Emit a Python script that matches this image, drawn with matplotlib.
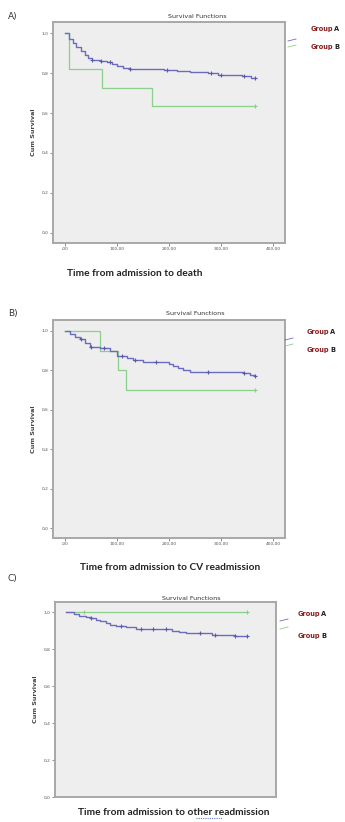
import matplotlib
matplotlib.use("Agg")
import matplotlib.pyplot as plt
from matplotlib.lines import Line2D

# Kaplan-Meier step data (days, cumulative survival)
a_blue_t = [0, 8, 15, 22, 30, 38, 45, 52, 67, 80, 90, 100, 112, 125, 190, 215, 240, 275, 295, 340, 358, 365]
a_blue_s = [1.0, 0.97, 0.95, 0.93, 0.91, 0.89, 0.875, 0.865, 0.86, 0.855, 0.845, 0.835, 0.825, 0.82,
            0.815, 0.81, 0.805, 0.80, 0.79, 0.785, 0.775, 0.775]
a_blue_cens = [52, 70, 87, 125, 196, 280, 300, 345, 365]
a_green_t = [0, 8, 71, 168, 365]
a_green_s = [1.0, 0.818, 0.727, 0.636, 0.636]
a_green_cens = [365]

b_blue_t = [0, 10, 20, 29, 38, 48, 67, 87, 100, 119, 131, 150, 188, 200, 208, 218, 227, 240, 342, 355, 365]
b_blue_s = [1.0, 0.985, 0.97, 0.96, 0.94, 0.92, 0.915, 0.90, 0.87, 0.86, 0.85, 0.84, 0.84, 0.83,
            0.82, 0.81, 0.80, 0.79, 0.785, 0.775, 0.77]
b_blue_cens = [30, 50, 75, 110, 135, 175, 275, 345, 365]
b_green_t = [0, 67, 101, 118, 365]
b_green_s = [1.0, 0.9, 0.8, 0.7, 0.7]
b_green_cens = [365]

c_blue_t = [0, 15, 26, 40, 50, 60, 67, 80, 87, 100, 121, 141, 205, 214, 228, 242, 294, 340, 365]
c_blue_s = [1.0, 0.99, 0.98, 0.975, 0.97, 0.96, 0.95, 0.94, 0.93, 0.925, 0.92, 0.91, 0.91, 0.90,
            0.89, 0.885, 0.875, 0.87, 0.87]
c_blue_cens = [50, 110, 150, 175, 200, 270, 300, 340, 365]
c_green_t = [0, 365]
c_green_s = [1.0, 1.0]
c_green_cens = [35, 365]

y_ticks = [0.0, 0.2, 0.4, 0.6, 0.8, 1.0]
y_labels = ["0,0", "0,2", "0,4", "0,6", "0,8", "1,0"]
x_ticks = [0, 100, 200, 300, 400]
x_labels = [",00", "100,00", "200,00", "300,00", "400,00"]

BLUE = "#6b6bbf"
GREEN = "#8ccf8c"
FRAME = "#a8a8a8"
PANEL = "#eeeeee"

W, H = 345, 822
fig = plt.figure(figsize=(W / 100, H / 100), dpi=100)
fig.patch.set_facecolor("white")


def fx(px):
    return px / W


def fy(py):
    return 1 - py / H


def step_value(ts, ss, t):
    val = ss[0]
    for ti, si in zip(ts, ss):
        if ti <= t:
            val = si
    return val


def km_panel(box, bt, bs, bc, gt, gs, gc, ymin, show_x=True):
    left, top, right, bottom = box
    ax = fig.add_axes([fx(left), fy(bottom), fx(right - left), (bottom - top) / H])
    ax.set_facecolor(PANEL)
    for sp in ax.spines.values():
        sp.set_color(FRAME)
        sp.set_linewidth(1.4)
    ax.step(gt, gs, where="post", color=GREEN, lw=0.9)
    ax.step(bt, bs, where="post", color=BLUE, lw=1.0)
    ax.plot(gc, [step_value(gt, gs, t) for t in gc], "+", color=GREEN, ms=3, mew=0.8)
    ax.plot(bc, [step_value(bt, bs, t) for t in bc], "+", color="#5a5aa8", ms=3, mew=0.8)
    ax.set_xlim(-23, 423)
    ax.set_ylim(ymin, 1.055)
    ax.set_yticks(y_ticks)
    ax.set_yticklabels(y_labels)
    if show_x:
        ax.set_xticks(x_ticks)
        ax.set_xticklabels(x_labels)
    else:
        ax.set_xticks([])
    ax.tick_params(labelsize=3.2, length=2, width=0.6, color="#777777", labelcolor="#555555", pad=1)
    ax.set_ylabel("Cum Survival", fontsize=4.6, fontweight="bold", color="#444444", labelpad=4)
    return ax


km_panel((53, 22, 285, 243), a_blue_t, a_blue_s, a_blue_cens,
         a_green_t, a_green_s, a_green_cens, -0.05)
km_panel((53, 320, 285, 538), b_blue_t, b_blue_s, b_blue_cens,
         b_green_t, b_green_s, b_green_cens, -0.05)
km_panel((55, 602, 276, 797), c_blue_t, c_blue_s, c_blue_cens,
         c_green_t, c_green_s, c_green_cens, 0.05, show_x=False)

# panel letters and titles
for letter, ly, ty, tx in [("A)", 16, 16, 197), ("B)", 313, 313, 195), ("C)", 579, 598, 191)]:
    fig.text(fx(8), fy(ly), letter, fontsize=6.5, color="#333333", va="center", ha="left")
    fig.text(fx(tx), fy(ty), "Survival Functions", fontsize=4.6, color="#333333",
             va="center", ha="center")

# axis titles under each panel
for label, cx, cy in [("Time from admission to death", 135, 273),
                      ("Time from admission to CV readmission", 170, 567),
                      ("Time from admission to other readmission", 174, 812)]:
    fig.text(fx(cx), fy(cy), label, fontsize=7.3, fontweight="bold", family="Lato",
             color="#222222", ha="center", va="center")
# spell-check squiggle under "other"
fig.add_artist(Line2D([fx(196), fx(222)], [fy(818), fy(818)], color="#5b7fd0",
                      lw=0.8, ls=(0, (1, 1))))

# legend entries to the right of each panel
legend_spots = [(311, 29, 47, 288, 40, 46), (307, 332, 350, 285, 339, 345),
                (298, 614, 636, 280, 620, 628)]
for tx, ya, yb, gx, gya, gyb in legend_spots:
    for name, yy in [("A", ya), ("B", yb)]:
        fig.text(fx(tx), fy(yy), "Group", fontsize=4.8, fontweight="bold",
                 color="#8a1f1f", va="center", ha="left")
        fig.text(fx(tx + 23), fy(yy), name, fontsize=4.8, fontweight="bold",
                 color="#222222", va="center", ha="left")
    fig.add_artist(Line2D([fx(gx), fx(gx + 4), fx(gx + 8)], [fy(gya + 1), fy(gya), fy(gya - 1)],
                          color=BLUE, lw=0.6))
    fig.add_artist(Line2D([fx(gx), fx(gx + 4), fx(gx + 8)], [fy(gyb + 1), fy(gyb), fy(gyb - 1)],
                          color=GREEN, lw=0.6))

fig.savefig("out.png", dpi=100)
